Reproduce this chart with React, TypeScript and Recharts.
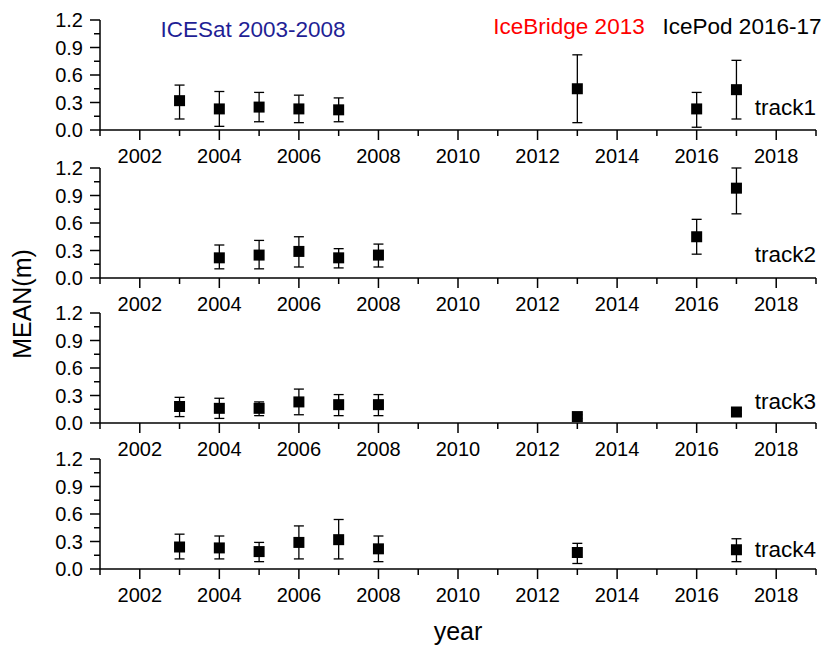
import { ScatterChart, Scatter, XAxis, YAxis, ErrorBar } from 'recharts';

const FONT = 'Arial, "Liberation Sans", sans-serif';

// x axis: one tick per year, labels on even years
const YEAR_TICKS = [
  2001, 2002, 2003, 2004, 2005, 2006, 2007, 2008, 2009, 2010,
  2011, 2012, 2013, 2014, 2015, 2016, 2017, 2018, 2019,
];
// y axis: minor ticks every 0.15, labels every 0.3
const MEAN_TICKS = [0, 0.15, 0.3, 0.45, 0.6, 0.75, 0.9, 1.05, 1.2];

// track1
const t1Years = [2003, 2004, 2005, 2006, 2007, 2013, 2016, 2017];
const t1Mean = [0.32, 0.23, 0.25, 0.23, 0.22, 0.45, 0.23, 0.44];
const t1Upper = [0.49, 0.42, 0.41, 0.38, 0.35, 0.82, 0.41, 0.76];
const t1Lower = [0.12, 0.04, 0.09, 0.08, 0.09, 0.08, 0.03, 0.12];

// track2
const t2Years = [2004, 2005, 2006, 2007, 2008, 2016, 2017];
const t2Mean = [0.22, 0.25, 0.29, 0.22, 0.25, 0.45, 0.98];
const t2Upper = [0.36, 0.41, 0.45, 0.32, 0.37, 0.64, 1.2];
const t2Lower = [0.1, 0.1, 0.12, 0.11, 0.12, 0.26, 0.7];

// track3
const t3Years = [2003, 2004, 2005, 2006, 2007, 2008, 2013, 2017];
const t3Mean = [0.18, 0.16, 0.16, 0.23, 0.2, 0.2, 0.07, 0.12];
const t3Upper = [0.28, 0.27, 0.23, 0.37, 0.31, 0.31, 0.09, 0.14];
const t3Lower = [0.07, 0.05, 0.08, 0.09, 0.08, 0.08, 0.05, 0.1];

// track4
const t4Years = [2003, 2004, 2005, 2006, 2007, 2008, 2013, 2017];
const t4Mean = [0.24, 0.23, 0.19, 0.29, 0.32, 0.22, 0.18, 0.21];
const t4Upper = [0.38, 0.36, 0.29, 0.47, 0.54, 0.36, 0.28, 0.33];
const t4Lower = [0.11, 0.11, 0.08, 0.11, 0.11, 0.08, 0.06, 0.08];

const TRACKS = [
  { name: 'track1', years: t1Years, mean: t1Mean, upper: t1Upper, lower: t1Lower },
  { name: 'track2', years: t2Years, mean: t2Mean, upper: t2Upper, lower: t2Lower },
  { name: 'track3', years: t3Years, mean: t3Mean, upper: t3Upper, lower: t3Lower },
  { name: 'track4', years: t4Years, mean: t4Mean, upper: t4Upper, lower: t4Lower },
];

// panel placement (top of plot area) and track label baselines
const PANEL_TOPS = [20, 167.5, 313, 459];
const TRACK_LABEL_Y = [115, 262, 409, 557];

const PLOT_H = 110;
const CHART_H = 175;
const CHART_MARGIN_TOP = 10;

function buildRows(t: (typeof TRACKS)[number]) {
  return t.years.map((year, i) => ({
    year,
    mean: t.mean[i],
    err: [+(t.mean[i] - t.lower[i]).toFixed(3), +(t.upper[i] - t.mean[i]).toFixed(3)],
  }));
}

function XTick(props: any) {
  const { x, y, payload } = props;
  const major = payload.value % 2 === 0;
  return (
    <g>
      <line x1={x} x2={x} y1={y} y2={y + (major ? 10 : 6)} stroke="#000" strokeWidth={1.5} />
      {major && (
        <text x={x} y={y + 33} textAnchor="middle" fontSize={20} fontFamily={FONT} fill="#000">
          {payload.value}
        </text>
      )}
    </g>
  );
}

function YTick(props: any) {
  const { x, y, payload } = props;
  const v = payload.value;
  const major = Math.abs(Math.round(v / 0.3) * 0.3 - v) < 1e-6;
  return (
    <g>
      <line x1={x - (major ? 10 : 6)} x2={x} y1={y} y2={y} stroke="#000" strokeWidth={1.5} />
      {major && (
        <text x={x - 17} y={y + 7} textAnchor="end" fontSize={20} fontFamily={FONT} fill="#000">
          {v.toFixed(1)}
        </text>
      )}
    </g>
  );
}

const SquareMarker = (props: any) => {
  const { cx, cy } = props;
  if (cx == null || cy == null) return null;
  return <rect x={cx - 5.5} y={cy - 5.5} width={11} height={11} fill="#000" />;
};

function Panel({ track, top }: { track: (typeof TRACKS)[number]; top: number }) {
  const rows = buildRows(track);
  return (
    <div style={{ position: 'absolute', left: 0, top: top - CHART_MARGIN_TOP }}>
      <ScatterChart
        width={829}
        height={CHART_H}
        margin={{ top: CHART_MARGIN_TOP, right: 13, bottom: CHART_H - CHART_MARGIN_TOP - PLOT_H - 30, left: 40 }}
      >
        <XAxis
          type="number"
          dataKey="year"
          domain={[2001, 2019]}
          ticks={YEAR_TICKS}
          interval={0}
          height={30}
          tickSize={0}
          tickMargin={0}
          tickLine={false}
          tick={<XTick />}
          axisLine={{ stroke: '#000', strokeWidth: 1.5 }}
        />
        <YAxis
          type="number"
          dataKey="mean"
          domain={[0, 1.2]}
          ticks={MEAN_TICKS}
          interval={0}
          width={60}
          tickSize={0}
          tickMargin={0}
          tickLine={false}
          tick={<YTick />}
          axisLine={{ stroke: '#000', strokeWidth: 1.5 }}
          allowDataOverflow
        />
        <Scatter data={rows} fill="#000" shape={<SquareMarker />} isAnimationActive={false}>
          <ErrorBar dataKey="err" direction="y" width={5} stroke="#000" strokeWidth={1.3} isAnimationActive={false} />
        </Scatter>
      </ScatterChart>
    </div>
  );
}

export default function App() {
  return (
    <div
      style={{
        position: 'absolute',
        left: 0,
        top: 0,
        width: 829,
        height: 648,
        background: '#fff',
        overflow: 'hidden',
      }}
    >
      {TRACKS.map((t, i) => (
        <Panel key={t.name} track={t} top={PANEL_TOPS[i]} />
      ))}
      <svg
        width={829}
        height={648}
        style={{ position: 'absolute', left: 0, top: 0, pointerEvents: 'none' }}
        fontFamily={FONT}
      >
        <text x={253} y={37} textAnchor="middle" fontSize={22.5} fill="#1f1f95">
          ICESat 2003-2008
        </text>
        <text x={569} y={34} textAnchor="middle" fontSize={22.5} fill="#ff0000">
          IceBridge 2013
        </text>
        <text x={742} y={34} textAnchor="middle" fontSize={22.5} fill="#000">
          IcePod 2016-17
        </text>
        {TRACKS.map((t, i) => (
          <text key={t.name} x={816} y={TRACK_LABEL_Y[i]} textAnchor="end" fontSize={22.5} fill="#000">
            {t.name}
          </text>
        ))}
        <text
          x={0}
          y={0}
          transform="translate(31 304) rotate(-90)"
          textAnchor="middle"
          fontSize={25}
          fill="#000"
        >
          MEAN(m)
        </text>
        <text x={458} y={640} textAnchor="middle" fontSize={25} fill="#000">
          year
        </text>
      </svg>
    </div>
  );
}
